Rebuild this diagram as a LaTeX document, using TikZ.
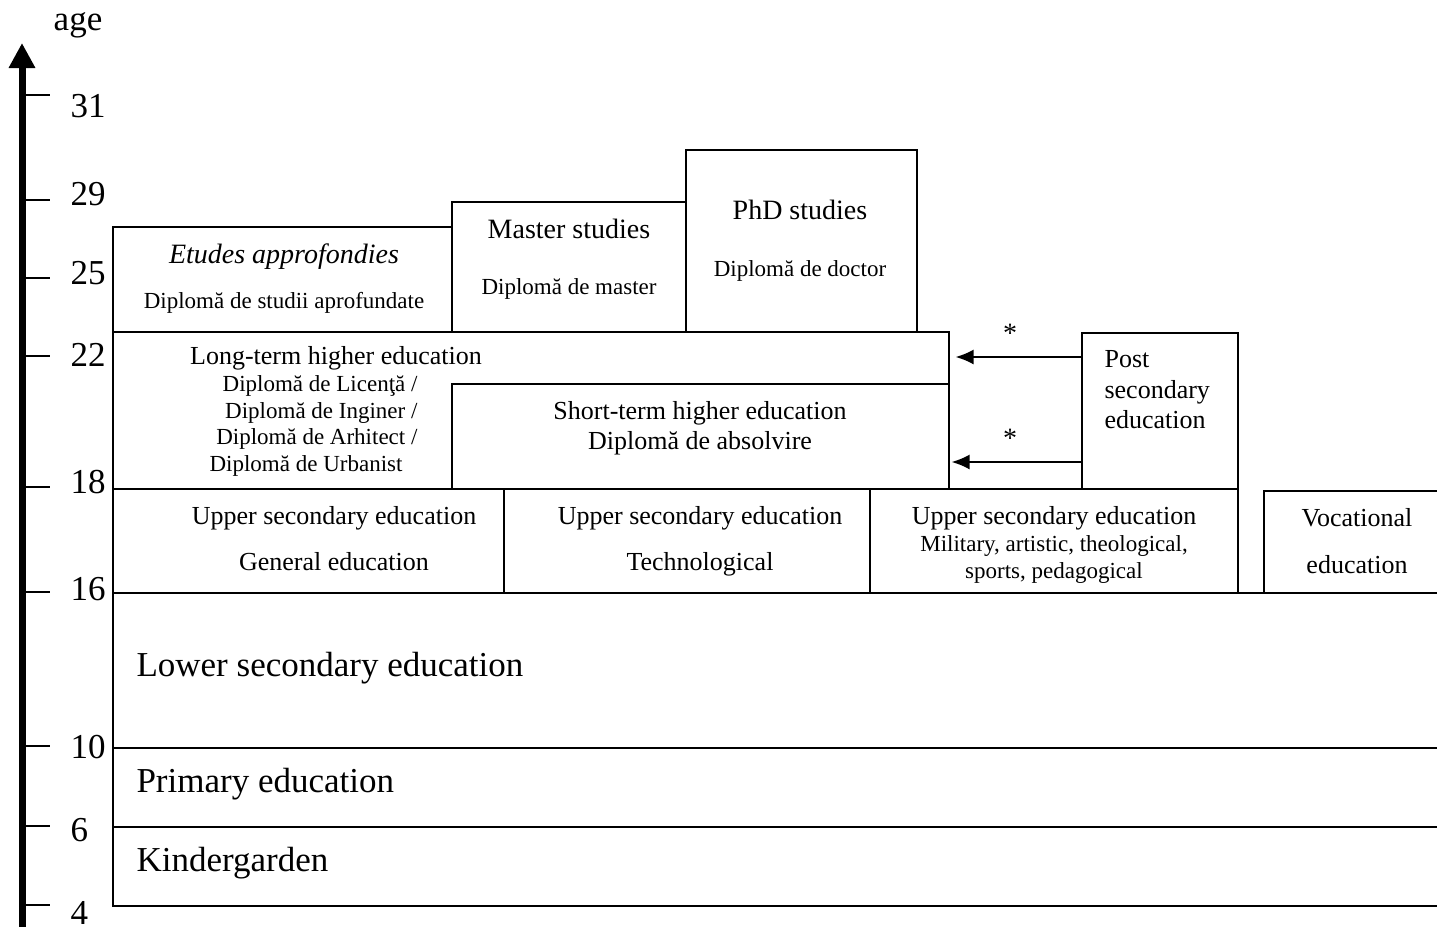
\documentclass[tikz,border=0pt]{standalone}
\usepackage{fontspec}
\setmainfont{Liberation Serif}
\usetikzlibrary{arrows.meta}

\newcommand{\bigtxt}{\fontsize{35}{40}\selectfont}
\newcommand{\headtxt}{\fontsize{28}{32}\selectfont}
\newcommand{\midtxt}{\fontsize{26}{30}\selectfont}
\newcommand{\smalltxt}{\fontsize{23}{26.7}\selectfont}

\begin{document}
\begin{tikzpicture}[x=1pt, y=-1pt, >={Latex[length=18pt,width=15pt]},
    box/.style={draw, line width=1.6pt, anchor=north west, inner sep=0pt},
    agetick/.style={line width=1.8pt},
    link/.style={->, line width=1.8pt}]
  \useasboundingbox (0,0) rectangle (1437,926);

  % age axis
  \draw[line width=7pt, -{Triangle[length=25pt,width=25pt]}] (22,930) -- (22,43);
  \node (age) at (78,25) {\bigtxt age};
  \foreach \yt/\yl/\lab in {95/106/31, 200/194/29, 278/273/25, 356/355/22,
      487/482/18, 592/589/16, 746/747/10, 826/830/6, 905/913/4}
  {
    \draw[agetick] (26,\yt) -- (50,\yt);
    \node[anchor=west] (age\lab) at (67,\yl) {\bigtxt \lab};
  }

  % compulsory levels
  \node[box, minimum width=1340pt, minimum height=79pt]  (kg)   at (112,826) {};
  \node[box, minimum width=1340pt, minimum height=79pt]  (prim) at (112,747) {};
  \node[box, minimum width=1340pt, minimum height=155pt] (low)  at (112,592) {};
  \node[anchor=west] (kgtxt)   at (133,863) {\bigtxt Kindergarden};
  \node[anchor=west] (primtxt) at (133,784) {\bigtxt Primary education};
  \node[anchor=west] (lowtxt)  at (133,668) {\bigtxt Lower secondary education};

  % upper secondary
  \node[box, minimum width=391pt, minimum height=104pt] (gen) at (112,488) {};
  \node[box, minimum width=366pt, minimum height=104pt] (tech) at (503,488) {};
  \node[box, minimum width=368pt, minimum height=104pt] (mil) at (869,488) {};
  \node[box, minimum width=190pt, minimum height=102pt] (voc) at (1263,490) {};
  \node[align=center, font=\fontsize{26}{46}\selectfont] (gentxt) at (334,539)
    {Upper secondary education\\General education};
  \node[align=center, font=\fontsize{26}{46}\selectfont] (techtxt) at (700,541)
    {Upper secondary education\\Technological};
  \node[align=center, font=\fontsize{23}{27}\selectfont] (miltxt) at (1054,545)
    {{\midtxt Upper secondary education}\\Military, artistic, theological,\\sports, pedagogical};
  \node[align=center, font=\fontsize{26}{47}\selectfont] (voctxt) at (1357,541)
    {Vocational\\education};

  % higher education
  \node[box, minimum width=836pt, minimum height=157pt] (long) at (112,331) {};
  \node[box, minimum width=497pt, minimum height=105pt] (short) at (451,383) {};
  \node[box, minimum width=156pt, minimum height=156pt] (post) at (1081,332) {};
  \node (longtxt) at (336,358) {\midtxt Long-term higher education};
  \node[anchor=east, align=right, font=\smalltxt] (longdipl) at (421,426)
    {Diplomă de Licenţă /\\Diplomă de Inginer /\\Diplomă de Arhitect /\\Diplomă de Urbanist\hspace*{15pt}};
  \node[align=center, font=\midtxt] (shorttxt) at (700,428)
    {Short-term higher education\\Diplomă de absolvire};
  \node[anchor=west, align=left, font=\fontsize{26}{30.5}\selectfont] (posttxt) at (1101,390)
    {Post\\secondary\\education};

  % postgraduate
  \node[box, minimum width=339pt, minimum height=105pt] (etud) at (112,226) {};
  \node[box, minimum width=234pt, minimum height=130pt] (mast) at (451,201) {};
  \node[box, minimum width=231pt, minimum height=182pt] (phd) at (685,149) {};
  \node[align=center, font=\fontsize{23}{45}\selectfont] (etudtxt) at (284,279)
    {{\headtxt\itshape Etudes approfondies}\\Diplomă de studii aprofundate};
  \node[align=center, font=\fontsize{23}{56}\selectfont] (masttxt) at (569,259)
    {{\headtxt Master studies}\\Diplomă de master};
  \node[align=center, font=\fontsize{23}{57}\selectfont] (phdtxt) at (800,241)
    {{\headtxt PhD studies}\\Diplomă de doctor};

  % access from post secondary
  \coordinate (lvl1) at (0,357);
  \coordinate (lvl2) at (0,462);
  \draw[link, shorten >=6pt] (post.west |- lvl1) --
    node[pos=0.54, yshift=24pt] (star1) {\fontsize{28}{32}\selectfont *} (long.east |- lvl1);
  \draw[link, shorten >=2pt] (post.west |- lvl2) --
    node[pos=0.54, yshift=24pt] (star2) {\fontsize{28}{32}\selectfont *} (short.east |- lvl2);
\end{tikzpicture}
\end{document}
